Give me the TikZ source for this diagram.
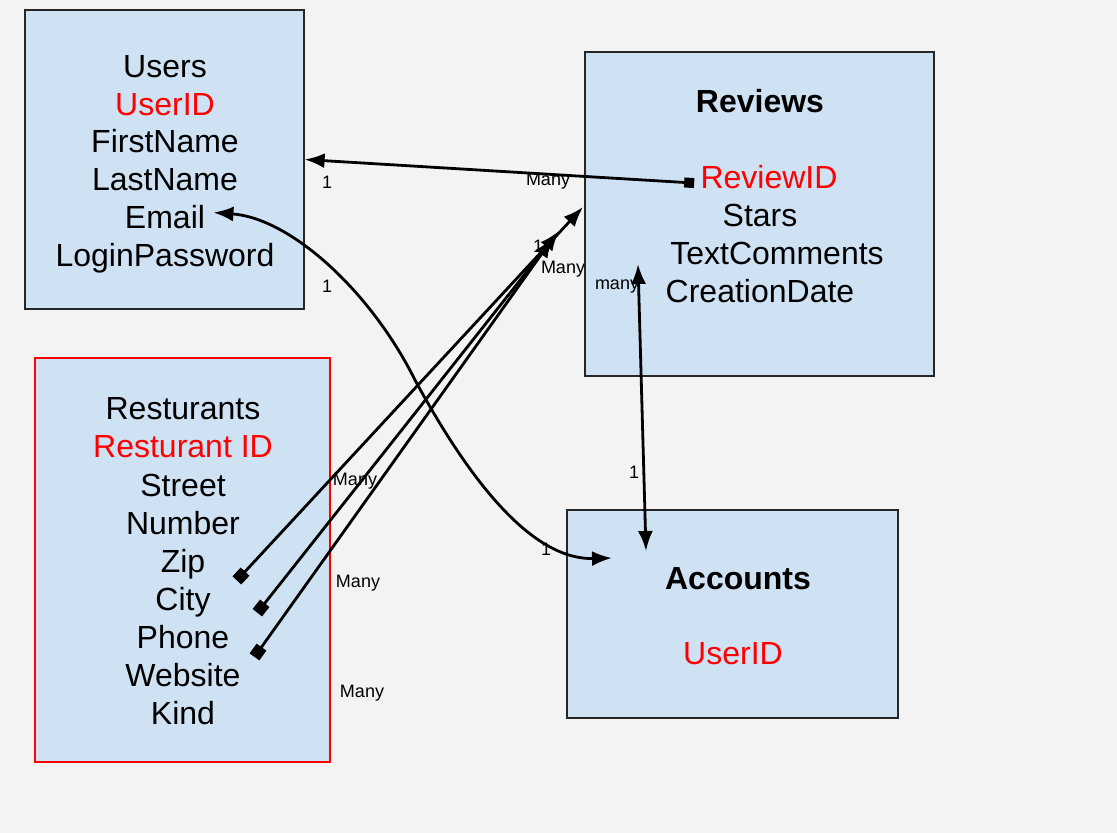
\documentclass[tikz,border=0pt]{standalone}
\usepackage{fontspec}
\setmainfont{Liberation Sans}
\usetikzlibrary{arrows.meta,fit}
\definecolor{tableblue}{HTML}{CFE2F3}
\definecolor{pagegray}{HTML}{F3F3F3}
\tikzset{
  table/.style={draw=black!85, fill=tableblue, line width=0.6pt, inner sep=0pt},
  field/.style={font=\fontsize{16}{19}\selectfont, inner sep=0pt, anchor=base},
  keyfield/.style={field, text=red},
  titlefield/.style={field, font=\fontsize{16}{19}\selectfont\bfseries},
  card/.style={font=\fontsize{9}{11}\selectfont, inner sep=0pt},
  link/.style={line width=1.4pt},
}

\begin{document}
\begin{tikzpicture}[x=0.5pt,y=-0.5pt,>={Latex[length=10pt,width=7.5pt]}]
      \useasboundingbox[fill=pagegray] (0,0) rectangle (1117,833);
      \node [table, fit={(25,10) (304,309)}] (usersbox) {};
      \node [table, fit={(585,52) (934,376)}] (reviewsbox) {};
      \node [table, draw=red, fit={(35,358) (330,762)}] (resturantsbox) {};
      \node [table, fit={(567,510) (898,718)}] (accountsbox) {};
      \node [field] (users) at (165,78) {Users};
      \node [keyfield] (userid) at (165,116) {UserID};
      \node [field] (firstname) at (165,153) {FirstName};
      \node [field] (lastname) at (165,191) {LastName};
      \node [field] (email) at (165,229) {Email};
      \node [field] (loginpassword) at (165,267) {LoginPassword};
      \node [titlefield] (reviews) at (760,113) {Reviews};
      \node [keyfield] (reviewid) at (769,189) {ReviewID};
      \node [field] (stars) at (760,227) {Stars};
      \node [field] (textcomments) at (777,265) {TextComments};
      \node [field] (creationdate) at (760,303) {CreationDate};
      \node [field] (resturants) at (183,420) {Resturants};
      \node [keyfield] (resturantid) at (183,458) {Resturant ID};
      \node [field] (street) at (183,496) {Street};
      \node [field] (number) at (183,534) {Number};
      \node [field] (zip) at (183,572) {Zip};
      \node [field] (city) at (183,610) {City};
      \node [field] (phone) at (183,648) {Phone};
      \node [field] (website) at (183,686) {Website};
      \node [field] (kind) at (183,724) {Kind};
      \node [titlefield] (accounts) at (738,589) {Accounts};
      \node [keyfield] (accountuserid) at (733,664) {UserID};
      \coordinate (accountsin) at (612,558);
      \coordinate (zipkey) at (236.9,580.4);
      \coordinate (citykey) at (257.3,612.7);
      \coordinate (phonekey) at (254.5,656.9);
      \coordinate (zipend) at (583,207);
      \coordinate (cityend) at (559,231);
      \coordinate (phoneend) at (553,238);
      \coordinate (reviewsout) at (638,264);
      \coordinate (accountstop) at (646,551);
      \draw [link, {Square[length=5pt,width=5pt]}->] ([xshift=-3pt,yshift=-2.75pt]reviewid.west) -- (usersbox.east);
      \draw [link, <->] ([xshift=4pt,yshift=2.5pt]email.east) .. controls (290,218) and (370,290) .. (415,380) .. controls (480,500) and (540,560) .. (accountsin);
      \draw [link, {Square[length=6pt,width=6pt]}->] (zipkey) -- (zipend);
      \draw [link, {Square[length=6pt,width=6pt]}->] (citykey) -- (cityend);
      \draw [link, {Square[length=6pt,width=6pt]}->] (phonekey) -- (phoneend);
      \draw [link, <->] (reviewsout) -- (accountstop);
      \node [card] (usersone) at (327,182) {1};
      \node [card] (reviewsmany) at (548,181) {Many};
      \node [card] (emailone) at (327,286) {1};
      \node [card] (zipone) at (538,246) {1};
      \node [card] (citymany) at (563,269) {Many};
      \node [card] (reviewsmanylow) at (617,287) {many};
      \node [card] (zipmany) at (355,481) {Many};
      \node [card] (accountsone) at (634,472) {1};
      \node [card] (accountsinone) at (546,549) {1};
      \node [card] (phonemany) at (358,583) {Many};
      \node [card] (websitemany) at (362,693) {Many};
\end{tikzpicture}
\end{document}
